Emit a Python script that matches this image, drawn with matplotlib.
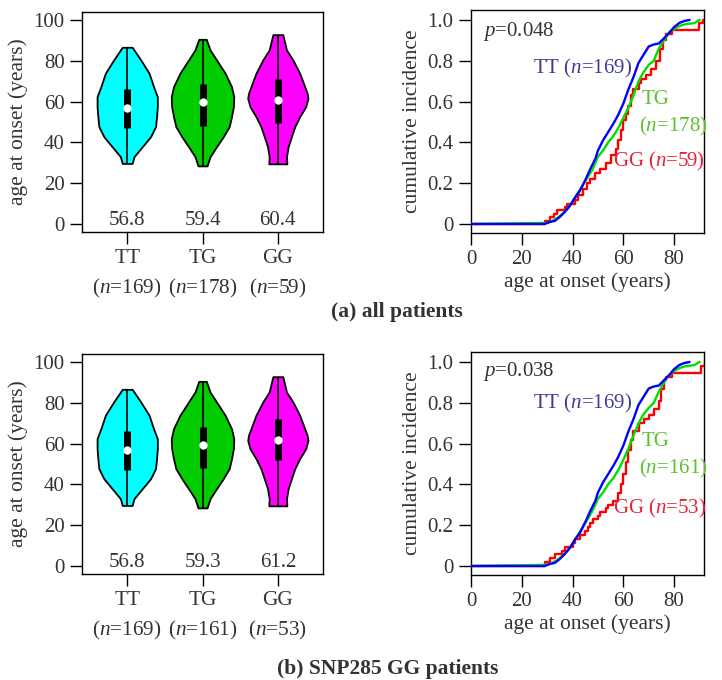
import numpy as np
import matplotlib
matplotlib.use("Agg")
import matplotlib.pyplot as plt

plt.rcParams['font.family'] = ['Liberation Serif', 'DejaVu Serif']
plt.rcParams['mathtext.fontset'] = 'custom'
plt.rcParams['mathtext.rm'] = 'Liberation Serif'
plt.rcParams['mathtext.it'] = 'Liberation Serif:italic'

# ---- data ----
genotypes = ['TT', 'TG', 'GG']
n_a = [169, 178, 59]
n_b = [169, 161, 53]
means_a = ['56.8', '59.4', '60.4']
means_b = ['56.8', '59.3', '61.2']

# violin outlines: age levels and half widths (in category units)
tt_y = [29.7, 33, 37.9, 42.8, 47.7, 52.6, 57.5, 62.4, 67.3, 73.9, 80.4, 86.6]
tt_w = [0.066, 0.09, 0.20, 0.31, 0.376, 0.39, 0.40, 0.40, 0.35, 0.29, 0.18, 0.066]
tg_y = [28.5, 33, 37.9, 42.8, 47.7, 52.6, 57.5, 62.4, 67.3, 73.9, 80.4, 85.3, 90.5]
tg_w = [0.06, 0.10, 0.186, 0.275, 0.354, 0.385, 0.41, 0.415, 0.385, 0.30, 0.186, 0.10, 0.05]
gg_y = [29.5, 33, 37.9, 42.8, 47.7, 52.6, 57.5, 61.6, 64.0, 69.0, 73.9, 80.4, 85.3, 92.8]
gg_w = [0.12, 0.115, 0.137, 0.18, 0.225, 0.29, 0.37, 0.40, 0.39, 0.34, 0.29, 0.20, 0.115, 0.066]

# box (q1, median, q3)
box_a = [(46.9, 57.0, 66.0), (48.0, 59.6, 68.5), (49.3, 60.8, 71.1)]
box_b = [(46.9, 57.0, 66.0), (48.0, 59.4, 68.0), (51.9, 61.7, 72.0)]

# cumulative incidence curves (age, cumulative fraction)
tt_age = [0, 29, 31, 33, 35, 37, 39, 41, 43, 45, 47, 49, 50, 52, 54, 56, 58, 60,
          62, 64, 66, 68, 70, 72, 74, 76, 78, 80, 82, 84, 86]
tt_cum = [0, 0, 0.01, 0.015, 0.035, 0.06, 0.09, 0.13, 0.165, 0.215, 0.27, 0.32, 0.36,
          0.41, 0.45, 0.49, 0.535, 0.59, 0.66, 0.72, 0.79, 0.83, 0.87, 0.88, 0.885,
          0.91, 0.935, 0.965, 0.985, 0.995, 1.0]

tg_age_a = [0, 30, 32, 34, 36, 38, 40, 42, 44, 46, 48, 50, 52, 54, 56, 58, 60, 62,
            64, 66, 68, 70, 72, 74, 76, 78, 80, 82, 84, 86, 88, 90]
tg_cum_a = [0, 0.005, 0.015, 0.03, 0.05, 0.075, 0.11, 0.15, 0.19, 0.23, 0.27, 0.33,
            0.36, 0.40, 0.43, 0.47, 0.52, 0.57, 0.63, 0.70, 0.745, 0.78, 0.80, 0.86,
            0.90, 0.94, 0.955, 0.97, 0.978, 0.982, 0.985, 1.0]
tg_age_b = [0, 30, 32, 34, 36, 38, 40, 42, 44, 46, 48, 50, 52, 54, 56, 58, 60, 62,
            64, 66, 68, 70, 72, 74, 76, 78, 80, 82, 84, 86, 88, 90]
tg_cum_b = [0, 0.006, 0.016, 0.03, 0.05, 0.075, 0.11, 0.15, 0.19, 0.23, 0.275, 0.33,
            0.36, 0.40, 0.43, 0.47, 0.52, 0.575, 0.64, 0.70, 0.745, 0.775, 0.80, 0.855,
            0.90, 0.935, 0.955, 0.97, 0.978, 0.982, 0.985, 1.0]

gg_age_a = [0, 29, 31, 32.5, 34, 37, 38, 41, 42, 44, 45.5, 47, 49, 51, 53, 55, 57,
            58, 59, 60, 61, 62, 63, 64, 66, 67, 69, 71, 73, 74.5, 75.5, 77, 79, 90, 91.5, 92]
gg_cum_a = [0, 0.017, 0.034, 0.05, 0.068, 0.085, 0.10, 0.12, 0.14, 0.17, 0.20, 0.22,
            0.25, 0.27, 0.30, 0.34, 0.37, 0.41, 0.46, 0.51, 0.54, 0.58, 0.63, 0.66,
            0.69, 0.71, 0.73, 0.76, 0.80, 0.86, 0.90, 0.93, 0.95, 0.983, 1.0, 1.0]
gg_age_b = [0, 29, 31, 33, 36, 37, 40, 41, 43, 45, 46, 47, 48, 50, 51, 53, 54, 56, 58,
            59, 60, 61, 62, 63, 64, 66, 68, 70, 72, 74, 75, 76, 77, 79, 90.5, 92]
gg_cum_b = [0, 0.019, 0.038, 0.057, 0.075, 0.094, 0.113, 0.132, 0.151, 0.17, 0.19,
            0.21, 0.23, 0.245, 0.264, 0.283, 0.30, 0.32, 0.36, 0.40, 0.45, 0.51, 0.57,
            0.62, 0.66, 0.70, 0.72, 0.74, 0.77, 0.81, 0.87, 0.91, 0.925, 0.945, 0.98, 1.0]

p_a = '0.048'
p_b = '0.038'

violin_colors = ['#00ffff', '#00cc00', '#ff00ff']
line_colors = ['#0000ff', '#00dd00', '#ff0000']
label_colors = ['#3d3d99', '#5cc02e', '#e8203a']
txt = '#333333'

fig = plt.figure(figsize=(7.22, 6.8), dpi=100)


def style(ax):
    for s in ax.spines.values():
        s.set_linewidth(1.0)
    ax.tick_params(direction='out', length=8.5, width=1.0, labelsize=15,
                   labelcolor=txt, pad=4)


def violin_panel(ax, ns, means, boxes):
    shapes = [(tt_y, tt_w), (tg_y, tg_w), (gg_y, gg_w)]
    for i, (ys, ws) in enumerate(shapes):
        pos = i + 1
        ys = np.array(ys)
        ws = np.array(ws)
        ax.fill_betweenx(ys, pos - ws, pos + ws, facecolor=violin_colors[i],
                         edgecolor='black', linewidth=1.3, zorder=2)
        ax.vlines(pos, ys[0], ys[-1], color='black', linewidth=1.2, zorder=3)
        q1, med, q3 = boxes[i]
        ax.plot([pos, pos], [q1, q3], color='black', linewidth=5,
                solid_capstyle='butt', zorder=4)
        ax.plot(pos, med, 'o', color='white', markersize=6, mec='none', zorder=5)
        ax.text(pos, 1.5, means[i], ha='center', va='center', fontsize=15, color=txt)
    ax.set_xlim(0.4, 3.6)
    ax.set_ylim(-3.9, 103.9)
    ax.set_yticks([0, 20, 40, 60, 80, 100])
    ax.set_xticks([1, 2, 3])
    style(ax)
    ax.set_xticklabels([f'{g}\n($n$={n})' for g, n in zip(genotypes, ns)],
                       linespacing=1.5, fontsize=15.3)
    ax.set_ylabel('age at onset (years)', fontsize=15.5, color=txt, labelpad=4)


def cum_panel(ax, curves, ns, pval, lab_pos):
    # blue and green have many small steps; drawn as a plain line through the knots
    styles = ['default', 'default', 'steps-post']
    zs = [3.2, 3.0, 2.9]
    for i, (ag, cu) in enumerate(curves):
        ax.plot(ag, cu, drawstyle=styles[i], color=line_colors[i], linewidth=1.7,
                zorder=zs[i])
    ax.set_xlim(0, 91.8)
    ax.set_ylim(-0.044, 1.049)
    ax.set_xticks([0, 20, 40, 60, 80])
    ax.set_yticks([0, 0.2, 0.4, 0.6, 0.8, 1.0])
    ax.set_yticklabels(['0', '0.2', '0.4', '0.6', '0.8', '1.0'])
    ax.set_xlabel('age at onset (years)', fontsize=15.5, color=txt, labelpad=2)
    ax.set_ylabel('cumulative incidence', fontsize=15.5, color=txt, labelpad=4)
    ax.text(4.6, lab_pos[0], f'$p$={pval}', fontsize=15, color=txt, va='center')
    ax.text(44.0, lab_pos[1], f'TT ($n$={ns[0]})', fontsize=15, color=label_colors[0],
            ha='center', va='center')
    ax.text(72.9, lab_pos[2], 'TG', fontsize=15, color=label_colors[1],
            ha='center', va='center')
    ax.text(79.5, lab_pos[3], f'($n$={ns[1]})', fontsize=15, color=label_colors[1],
            ha='center', va='center')
    ax.text(74.2, lab_pos[4], f'GG ($n$={ns[2]})', fontsize=15, color=label_colors[2],
            ha='center', va='center')
    style(ax)


ax1 = fig.add_axes([0.1136, 0.6588, 0.3338, 0.3236])
violin_panel(ax1, n_a, means_a, box_a)
ax2 = fig.add_axes([0.6524, 0.6574, 0.3227, 0.3279])
cum_panel(ax2, [(tt_age, tt_cum), (tg_age_a, tg_cum_a), (gg_age_a, gg_cum_a)],
          n_a, p_a, [0.943, 0.763, 0.608, 0.477, 0.306])

ax3 = fig.add_axes([0.1136, 0.1559, 0.3338, 0.3235])
violin_panel(ax3, n_b, means_b, box_b)
ax4 = fig.add_axes([0.6524, 0.1544, 0.3227, 0.3279])
cum_panel(ax4, [(tt_age, tt_cum), (tg_age_b, tg_cum_b), (gg_age_b, gg_cum_b)],
          n_b, p_b, [0.953, 0.797, 0.609, 0.479, 0.283])

fig.text(0.549, 1 - 312 / 680, '(a) all patients', fontsize=15.5, fontweight='bold',
         color=txt, ha='center', va='center')
fig.text(0.537, 1 - 669 / 680, '(b) SNP285 GG patients', fontsize=15.5,
         fontweight='bold', color=txt, ha='center', va='center')

fig.savefig('out.png', dpi=100)
